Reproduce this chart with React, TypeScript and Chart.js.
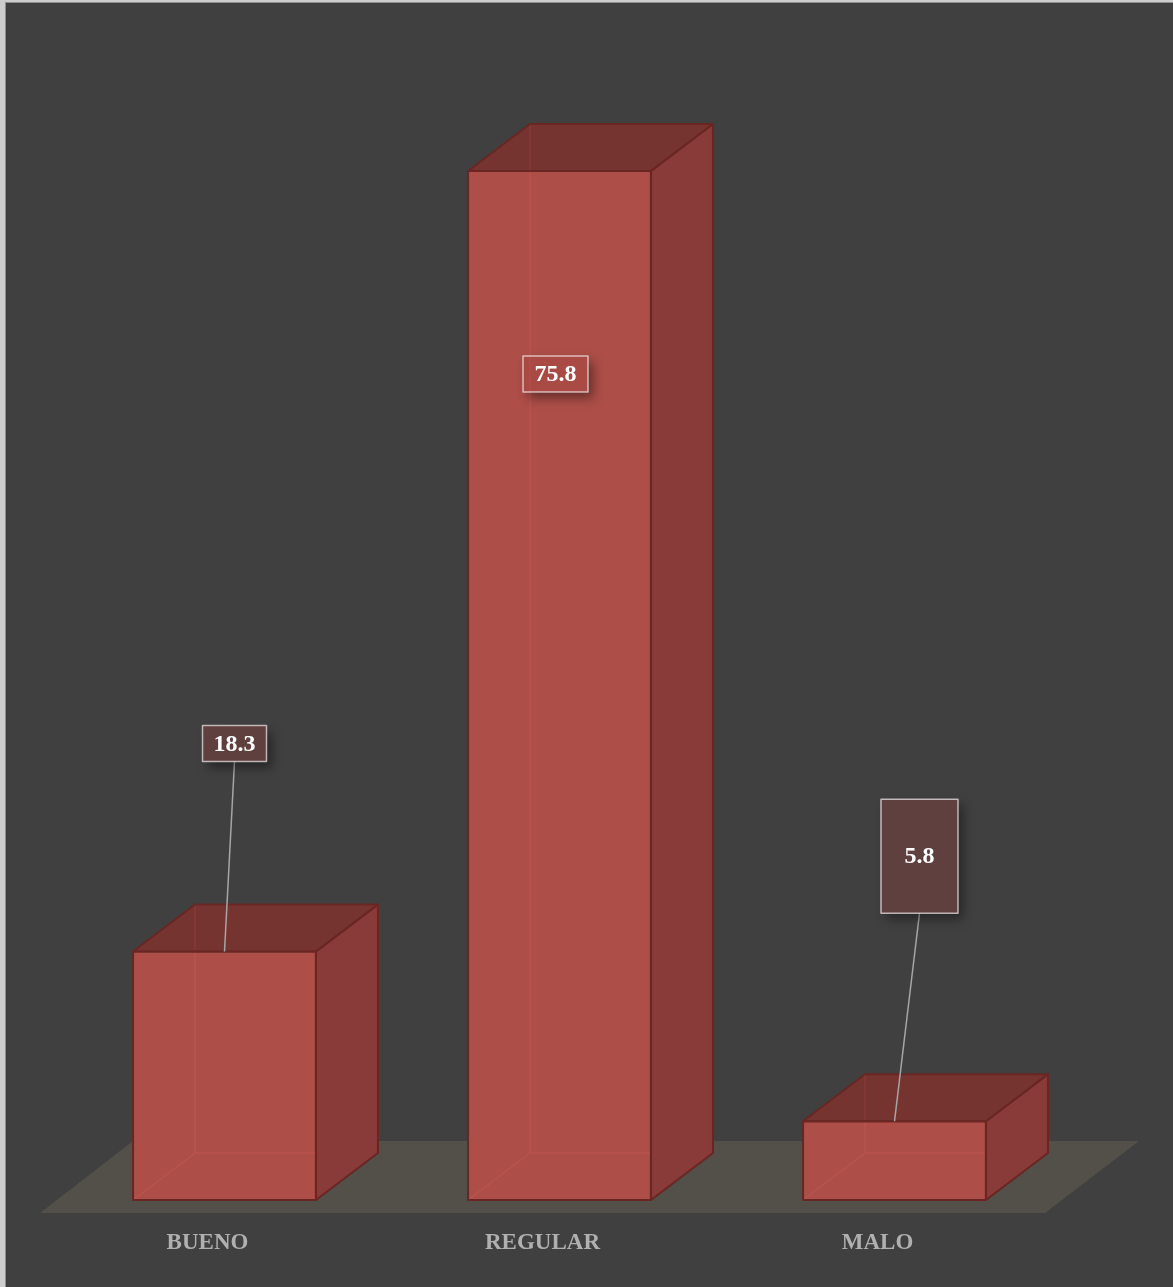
import React, { useEffect, useRef } from 'react';
import { Chart, registerables } from 'chart.js';

Chart.register(...registerables);

// ---- data ----
const categories = ['BUENO', 'REGULAR', 'MALO'];
const values = [18.3, 75.8, 5.8];
const valueLabels = ['18.3', '75.8', '5.8'];
const yMin = 0;
const yMax = 80;

// ---- label box styling / placement (relative to each bar) ----
const labelBoxes = [
  { w: 64, h: 36, dx: 10, dy: -208, leader: true },
  { w: 65, h: 36, dx: -4, dy: 203, leader: false },
  { w: 77, h: 114, dx: 25, dy: -265, leader: true },
];

const W = 1173;
const H = 1287;
const DX = 62;
const DY = -47;
const SERIF = "'Liberation Serif', 'DejaVu Serif', serif";

const poly = (ctx: CanvasRenderingContext2D, pts: number[][]) => {
  ctx.beginPath();
  ctx.moveTo(pts[0][0], pts[0][1]);
  for (let i = 1; i < pts.length; i++) ctx.lineTo(pts[i][0], pts[i][1]);
  ctx.closePath();
};

const scenePlugin = {
  id: 'scene3d',
  beforeDraw(chart: any) {
    const ctx = chart.ctx as CanvasRenderingContext2D;
    ctx.save();
    ctx.fillStyle = '#cdcdcd';
    ctx.fillRect(0, 0, W, H);
    ctx.fillStyle = '#8e8e8e';
    ctx.fillRect(5, 2, W, H);
    ctx.fillStyle = '#404040';
    ctx.fillRect(6, 3, W, H);
    ctx.restore();
  },
  beforeDatasetsDraw(chart: any) {
    const ctx = chart.ctx as CanvasRenderingContext2D;
    const { left, right } = chart.chartArea;
    const base = chart.scales.y.getPixelForValue(0);
    const front = base + 13;
    const back = base - 59;
    ctx.save();
    ctx.fillStyle = '#535049';
    poly(ctx, [
      [left - 17, front],
      [right - 17, front],
      [right + 77, back],
      [left + 76, back],
    ]);
    ctx.fill();
    ctx.restore();
  },
  afterDatasetsDraw(chart: any) {
    const ctx = chart.ctx as CanvasRenderingContext2D;
    const meta = chart.getDatasetMeta(0);
    ctx.save();
    meta.data.forEach((el: any) => {
      const { x, y, base, width } = el.getProps(['x', 'y', 'base', 'width'], true);
      const x0 = x - width / 2;
      const x1 = x + width / 2;
      const yT = y;
      const yB = base;
      // front
      ctx.fillStyle = '#ad4e48';
      ctx.fillRect(x0, yT, x1 - x0, yB - yT);
      // hidden edges seen through
      ctx.strokeStyle = 'rgba(196,88,82,0.8)';
      ctx.lineWidth = 1;
      ctx.beginPath();
      ctx.moveTo(x0 + DX, yT + DY);
      ctx.lineTo(x0 + DX, yB + DY);
      ctx.lineTo(x1 + DX, yB + DY);
      ctx.moveTo(x0, yB);
      ctx.lineTo(x0 + DX, yB + DY);
      ctx.stroke();
      // top
      ctx.fillStyle = '#763430';
      poly(ctx, [[x0, yT], [x1, yT], [x1 + DX, yT + DY], [x0 + DX, yT + DY]]);
      ctx.fill();
      // side
      ctx.fillStyle = '#883b39';
      poly(ctx, [[x1, yT], [x1 + DX, yT + DY], [x1 + DX, yB + DY], [x1, yB]]);
      ctx.fill();
      // faint back edge on top face
      ctx.strokeStyle = 'rgba(150,62,58,0.8)';
      ctx.beginPath();
      ctx.moveTo(x0 + DX, yT + DY);
      ctx.lineTo(x0 + DX, yT);
      ctx.stroke();
      // outlines
      ctx.strokeStyle = '#6a2622';
      ctx.lineWidth = 2;
      ctx.lineJoin = 'round';
      ctx.strokeRect(x0, yT, x1 - x0, yB - yT);
      poly(ctx, [[x0, yT], [x1, yT], [x1 + DX, yT + DY], [x0 + DX, yT + DY]]);
      ctx.stroke();
      poly(ctx, [[x1, yT], [x1 + DX, yT + DY], [x1 + DX, yB + DY], [x1, yB]]);
      ctx.stroke();
    });

    // data labels with callouts
    meta.data.forEach((el: any, i: number) => {
      const { x, y } = el.getProps(['x', 'y'], true);
      const b = labelBoxes[i];
      const cx = x + b.dx;
      const cy = y + b.dy;
      const bx = cx - b.w / 2;
      const by = cy - b.h / 2;
      if (b.leader) {
        ctx.strokeStyle = '#a6a6a6';
        ctx.lineWidth = 1.5;
        ctx.beginPath();
        ctx.moveTo(cx, by + b.h);
        ctx.lineTo(x, y);
        ctx.stroke();
      }
      // shadow only, clipped outside the box
      ctx.save();
      ctx.beginPath();
      ctx.rect(0, 0, W, H);
      ctx.rect(bx, by, b.w, b.h);
      ctx.clip('evenodd');
      ctx.shadowColor = 'rgba(0,0,0,0.4)';
      ctx.shadowBlur = 10;
      ctx.shadowOffsetX = 10000 + 5;
      ctx.shadowOffsetY = 6;
      ctx.fillStyle = '#000';
      ctx.fillRect(bx - 10000, by, b.w, b.h);
      ctx.restore();
      // box
      ctx.fillStyle = 'rgba(165,66,62,0.32)';
      ctx.fillRect(bx, by, b.w, b.h);
      ctx.strokeStyle = 'rgba(242,236,236,0.7)';
      ctx.lineWidth = 1.5;
      ctx.strokeRect(bx, by, b.w, b.h);
      // text
      ctx.fillStyle = '#ffffff';
      ctx.font = `bold 24px ${SERIF}`;
      ctx.textAlign = 'center';
      ctx.textBaseline = 'middle';
      ctx.fillText(valueLabels[i], cx, cy + 1);
    });
    ctx.restore();
  },
};

export default function App() {
  const ref = useRef<HTMLCanvasElement | null>(null);
  useEffect(() => {
    if (!ref.current) return;
    const chart = new Chart(ref.current, {
      type: 'bar',
      data: {
        labels: categories,
        datasets: [
          {
            data: values,
            backgroundColor: 'rgba(0,0,0,0)',
            borderWidth: 0,
            categoryPercentage: 1,
            barPercentage: 0.546,
          },
        ],
      },
      options: {
        responsive: false,
        animation: false,
        events: [],
        layout: { padding: { left: 57, right: 111, top: 114, bottom: 0 } },
        plugins: { legend: { display: false }, tooltip: { enabled: false } },
        scales: {
          x: {
            grid: { display: false, drawTicks: false },
            border: { display: false },
            ticks: {
              color: '#b0b0b0',
              font: { family: SERIF, weight: 'bold', size: 23 },
              padding: 29,
              labelOffset: -17,
              maxRotation: 0,
            },
            afterFit: (scale: any) => {
              scale.height = 87;
            },
          },
          y: {
            display: false,
            min: yMin,
            max: yMax,
          },
        },
      },
      plugins: [scenePlugin],
    } as any);
    return () => chart.destroy();
  }, []);
  return (
    <div style={{ position: 'absolute', left: 0, top: 0, width: W, height: H }}>
      <canvas ref={ref} width={W} height={H} style={{ display: 'block', width: W, height: H }} />
    </div>
  );
}
